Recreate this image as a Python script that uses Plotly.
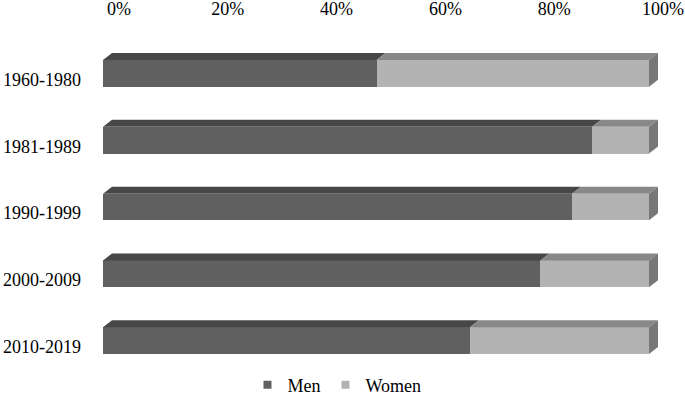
import plotly.graph_objects as go

categories = ["1960-1980", "1981-1989", "1990-1999", "2000-2009", "2010-2019"]
men = [50.1, 89.6, 85.9, 80.1, 67.2]
women = [49.9, 10.4, 14.1, 19.9, 32.8]
tick_vals = [0, 20, 40, 60, 80, 100]
tick_text = ["0%", "20%", "40%", "60%", "80%", "100%"]

MEN_FRONT, MEN_TOP = "#606060", "#474747"
WOMEN_FRONT, WOMEN_TOP, SIDE = "#b3b3b3", "#888888", "#777777"
FONT = "Liberation Serif"
FS = 18

# layout geometry (pixels)
W, H = 685, 397
L, R = 103, 680
T, B = 39.5, 374
plot_w = R - L
bar_px_per_unit = 546 / 100.0          # front face 0..100 spans 546 px
x_max = plot_w / bar_px_per_unit
cat_px = (B - T) / len(categories)
bar_width = 0.40
dx = 9 / bar_px_per_unit                # depth offset in data units
dy = 7 / cat_px

ypos = list(range(len(categories)))

fig = go.Figure()
fig.add_trace(go.Bar(y=ypos, x=men, orientation="h", name="Men", showlegend=False,
                     marker=dict(color=MEN_FRONT, line=dict(width=0)), width=bar_width))
fig.add_trace(go.Bar(y=ypos, x=women, orientation="h", name="Women", showlegend=False,
                     marker=dict(color=WOMEN_FRONT, line=dict(width=0)), width=bar_width))
# legend entries with small square swatches
for name, col in (("Men", MEN_FRONT), ("Women", WOMEN_FRONT)):
    fig.add_trace(go.Scatter(x=[None], y=[None], mode="markers", name=name,
                             marker=dict(symbol="square", size=8, color=col)))

shapes = []
def poly(pts, color):
    path = "M " + " L ".join(f"{x},{y}" for x, y in pts) + " Z"
    return dict(type="path", path=path, xref="x", yref="y", fillcolor=color,
                line=dict(width=0), layer="above")

for i, (m, w) in enumerate(zip(men, women)):
    yt = i - bar_width / 2
    yb = i + bar_width / 2
    shapes.append(poly([(0, yt), (m, yt), (m + dx, yt - dy), (dx, yt - dy)], MEN_TOP))
    shapes.append(poly([(m, yt), (m + w, yt), (m + w + dx, yt - dy), (m + dx, yt - dy)], WOMEN_TOP))
    e = m + w
    shapes.append(poly([(e, yt), (e, yb), (e + dx, yb - dy), (e + dx, yt - dy)], SIDE))

# top label axis (back wall), 0%..100% centred at 119..663 px
span = 100 * plot_w / 544
a = -(119 - L) * span / plot_w
b = a + span

fig.update_layout(
    barmode="stack",
    width=W, height=H,
    margin=dict(l=L, r=W - R, t=T, b=H - B, pad=0, autoexpand=False),
    paper_bgcolor="white", plot_bgcolor="white",
    font=dict(family=FONT, size=FS, color="black"),
    shapes=shapes,
    showlegend=True,
    legend=dict(orientation="h", x=(337 - L) / plot_w, xanchor="center",
                y=-(385 - B) / (B - T), yanchor="middle",
                font=dict(family=FONT, size=FS, color="black"),
                traceorder="normal", itemwidth=30),
    xaxis=dict(range=[0, x_max], showgrid=False, zeroline=False, showticklabels=False,
               showline=False, ticks="", automargin=False, fixedrange=True),
    xaxis2=dict(range=[a, b], overlaying="x", side="top", tickvals=tick_vals,
                ticktext=tick_text, showgrid=False, zeroline=False, showline=False,
                ticks="", ticklabelstandoff=20, automargin=False, fixedrange=True,
                tickfont=dict(family=FONT, size=FS, color="black")),
    yaxis=dict(range=[len(categories) - 0.5, -0.5], tickvals=ypos, ticktext=categories,
               showgrid=False, zeroline=False, showline=False, ticks="",
               ticklabelstandoff=21, ticklabelshift=-6, automargin=False, fixedrange=True,
               tickfont=dict(family=FONT, size=FS, color="black")),
)
fig.add_trace(go.Scatter(x=[0, 100], y=[0, 0], xaxis="x2", mode="markers",
                         marker=dict(opacity=0), showlegend=False, hoverinfo="skip"))

fig.write_html("out.html", config={"displayModeBar": False},
               post_script="document.body.style.margin='0';document.body.style.overflow='hidden';")
